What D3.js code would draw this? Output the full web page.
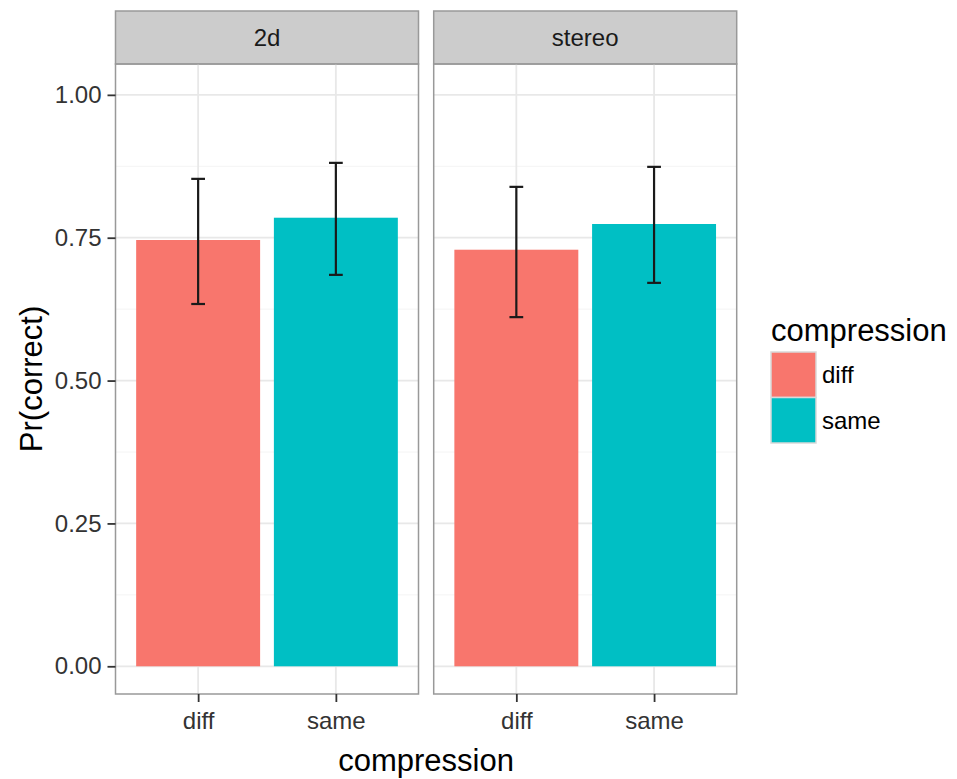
<!DOCTYPE html>
<html>
<head>
<meta charset="utf-8">
<script src="https://cdn.jsdelivr.net/npm/d3@7"></script>
<style>
  body { margin: 0; background: #fff; }
  text { font-family: "Liberation Sans", Arial, sans-serif; }
</style>
</head>
<body>
<div id="chart"></div>
<script>
// data
const facets = ["2d", "stereo"];
const compression = ["diff", "same"];
const meanCorrect = {
  "2d": [0.746, 0.785],
  "stereo": [0.729, 0.774]
};
const lowerCI = {
  "2d": [0.634, 0.685],
  "stereo": [0.611, 0.671]
};
const upperCI = {
  "2d": [0.853, 0.881],
  "stereo": [0.839, 0.874]
};
const yTicks = [0, 0.25, 0.5, 0.75, 1];
const yMinor = [0.125, 0.375, 0.625, 0.875];
const colors = ["#F8766D", "#00BFC4"];

const width = 957, height = 779;
const panelX = [115.5, 433.7];
const panelW = 303;
const stripTop = 11, panelTop = 64, panelBottom = 694;

const svg = d3.select("#chart").append("svg")
  .attr("width", width)
  .attr("height", height);

const y = d3.scaleLinear().domain([-0.0485, 1.054]).range([panelBottom, panelTop]);
const x = d3.scalePoint().domain(compression).range([0, panelW]).padding(0.6);
const step = x.step();
const color = d3.scaleOrdinal().domain(compression).range(colors);

facets.forEach((f, fi) => {
  const g = svg.append("g").attr("transform", `translate(${panelX[fi]},0)`);

  // strip
  g.append("rect")
    .attr("x", 0).attr("y", stripTop)
    .attr("width", panelW).attr("height", panelTop - stripTop)
    .attr("fill", "#cccccc").attr("stroke", "#999").attr("stroke-width", 1.5);
  g.append("text")
    .attr("x", panelW / 2).attr("y", (stripTop + panelTop) / 2)
    .attr("dy", "0.35em").attr("text-anchor", "middle")
    .attr("font-size", 24).attr("fill", "#1a1a1a")
    .text(f);

  // grid
  g.selectAll(".minor").data(yMinor).enter().append("line")
    .attr("x1", 0).attr("x2", panelW)
    .attr("y1", d => y(d)).attr("y2", d => y(d))
    .attr("stroke", "#f4f4f4").attr("stroke-width", 1);
  g.selectAll(".major").data(yTicks).enter().append("line")
    .attr("x1", 0).attr("x2", panelW)
    .attr("y1", d => y(d)).attr("y2", d => y(d))
    .attr("stroke", "#e8e8e8").attr("stroke-width", 1.8);
  g.selectAll(".xgrid").data(compression).enter().append("line")
    .attr("x1", d => x(d)).attr("x2", d => x(d))
    .attr("y1", panelTop).attr("y2", panelBottom)
    .attr("stroke", "#e8e8e8").attr("stroke-width", 1.8);

  // bars
  g.selectAll(".bar").data(compression).enter().append("rect")
    .attr("x", d => x(d) - step * 0.45)
    .attr("width", step * 0.9)
    .attr("y", (d, i) => y(meanCorrect[f][i]))
    .attr("height", (d, i) => y(0) - y(meanCorrect[f][i]))
    .attr("fill", d => color(d));

  // error bars
  const eb = g.selectAll(".eb").data(compression).enter().append("g")
    .attr("stroke", "#1a1a1a").attr("stroke-width", 2.2);
  eb.append("line")
    .attr("x1", d => x(d)).attr("x2", d => x(d))
    .attr("y1", (d, i) => y(lowerCI[f][i])).attr("y2", (d, i) => y(upperCI[f][i]));
  eb.append("line")
    .attr("x1", d => x(d) - step * 0.05).attr("x2", d => x(d) + step * 0.05)
    .attr("y1", (d, i) => y(lowerCI[f][i])).attr("y2", (d, i) => y(lowerCI[f][i]));
  eb.append("line")
    .attr("x1", d => x(d) - step * 0.05).attr("x2", d => x(d) + step * 0.05)
    .attr("y1", (d, i) => y(upperCI[f][i])).attr("y2", (d, i) => y(upperCI[f][i]));

  // border
  g.append("rect")
    .attr("x", 0).attr("y", panelTop)
    .attr("width", panelW).attr("height", panelBottom - panelTop)
    .attr("fill", "none").attr("stroke", "#999").attr("stroke-width", 1.5);

  // x axis
  const xa = g.append("g")
    .attr("transform", `translate(0,${panelBottom})`)
    .call(d3.axisBottom(x).tickSize(8).tickPadding(10));
  xa.select(".domain").remove();
  xa.selectAll("line").attr("stroke", "#333").attr("stroke-width", 1.8);
  xa.selectAll("text").attr("font-size", 24).attr("fill", "#333")
    .attr("font-family", "'Liberation Sans', Arial, sans-serif");
});

// y axis
const ya = svg.append("g")
  .attr("transform", `translate(${panelX[0]},0)`)
  .call(d3.axisLeft(y).tickValues(yTicks).tickFormat(d3.format(".2f")).tickSize(8).tickPadding(6));
ya.select(".domain").remove();
ya.selectAll("line").attr("stroke", "#333").attr("stroke-width", 1.8);
ya.selectAll("text").attr("font-size", 24).attr("fill", "#333")
  .attr("font-family", "'Liberation Sans', Arial, sans-serif");

// axis titles
svg.append("text")
  .attr("x", (panelX[0] + panelX[1] + panelW) / 2).attr("y", 771)
  .attr("text-anchor", "middle").attr("font-size", 31).attr("fill", "#000")
  .text("compression");
svg.append("text")
  .attr("transform", `translate(42,${(panelTop + panelBottom) / 2}) rotate(-90)`)
  .attr("text-anchor", "middle").attr("font-size", 31).attr("fill", "#000")
  .text("Pr(correct)");

// legend
const lg = svg.append("g").attr("transform", "translate(771,0)");
lg.append("text").attr("x", 0).attr("y", 341)
  .attr("font-size", 31).attr("fill", "#000").text("compression");
const keyH = 45.5;
const keys = lg.selectAll(".key").data(compression).enter().append("g")
  .attr("transform", (d, i) => `translate(0,${352 + i * keyH})`);
keys.append("rect")
  .attr("width", 45).attr("height", keyH)
  .attr("fill", d => color(d)).attr("stroke", "#d9d9d9").attr("stroke-width", 1.5);
keys.append("text")
  .attr("x", 51).attr("y", keyH / 2).attr("dy", "0.35em")
  .attr("font-size", 24).attr("fill", "#000")
  .text(d => d);
</script>
</body>
</html>
